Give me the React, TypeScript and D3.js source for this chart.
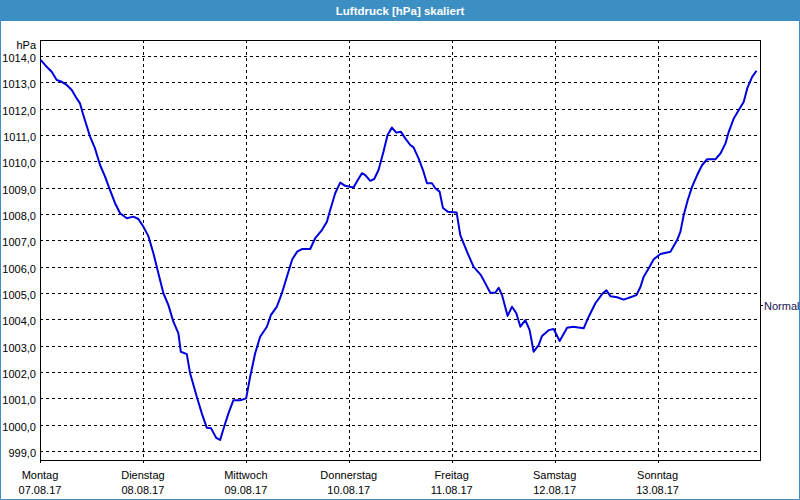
import React from "react";
import * as d3 from "d3";

const TITLE = "Luftdruck [hPa] skaliert";
const UNIT = "hPa";
const dayNames = ["Montag", "Dienstag", "Mittwoch", "Donnerstag", "Freitag", "Samstag", "Sonntag"];
const dayDates = ["07.08.17", "08.08.17", "09.08.17", "10.08.17", "11.08.17", "12.08.17", "13.08.17"];
const yTicks = [999, 1000, 1001, 1002, 1003, 1004, 1005, 1006, 1007, 1008, 1009, 1010, 1011, 1012, 1013, 1014];
const NORMAL_VALUE = 1004.54;
const NORMAL_LABEL = "Normal";

// hours since Monday 07.08.17 00:00
const hours = [
  0.16, 1.56, 2.73, 3.9, 5.06, 6.23, 7.4, 8.56, 9.33, 10.1, 11.67, 12.83, 14.0, 15.17, 16.33, 17.5, 18.67,
  20.23, 21.77, 22.94, 24.1, 25.27, 26.44, 27.6, 28.77, 29.94, 31.1, 32.27, 32.83, 34.23, 35.0, 36.56, 37.73,
  38.9, 39.9, 41.07, 42.0, 42.93, 43.94, 45.1, 46.67, 48.07, 49.0, 50.17, 51.33, 52.9, 53.83, 55.23, 56.4,
  57.57, 58.8, 59.97, 61.06, 63.0, 64.17, 65.73, 66.9, 67.67, 68.83, 70.0, 71.17, 73.1, 73.9, 75.06, 75.83,
  77.0, 77.93, 78.94, 80.1, 81.04, 82.06, 83.07, 84.16, 85.17, 86.33, 87.1, 88.27, 89.3, 90.23, 91.4, 92.17,
  93.17, 93.96, 95.08, 97.14, 98.0, 99.56, 101.1, 102.67, 103.44, 105.0, 106.17, 106.94, 107.73, 109.04,
  110.06, 111.07, 112.0, 113.17, 114.17, 115.1, 116.27, 117.06, 118.6, 119.77, 121.17, 122.9, 124.3, 126.77,
  127.94, 129.5, 131.06, 132.07, 133.0, 134.56, 136.1, 137.67, 139.07, 140.0, 140.77, 141.94, 143.1, 144.67,
  147.0, 148.56, 149.33, 150.1, 151.04, 152.06, 153.23, 154.4, 155.56, 157.5, 158.67, 159.83, 160.6, 161.77,
  162.94, 164.1, 164.9, 166.06, 167.07,
];
const pressure = [
  1013.85, 1013.59, 1013.4, 1013.09, 1013.02, 1012.9, 1012.71, 1012.39, 1012.2, 1011.76, 1010.94, 1010.49,
  1009.86, 1009.42, 1008.91, 1008.41, 1008.03, 1007.84, 1007.9, 1007.81, 1007.52, 1007.16, 1006.51, 1005.75,
  1004.99, 1004.54, 1003.91, 1003.47, 1002.77, 1002.68, 1001.95, 1001.06, 1000.43, 999.88, 999.86, 999.5,
  999.42, 999.92, 1000.43, 1000.93, 1000.93, 1001.0, 1001.82, 1002.71, 1003.34, 1003.72, 1004.16, 1004.48,
  1004.99, 1005.62, 1006.27, 1006.57, 1006.67, 1006.67, 1007.08, 1007.39, 1007.71, 1008.15, 1008.79, 1009.19,
  1009.07, 1009.01, 1009.23, 1009.55, 1009.48, 1009.26, 1009.33, 1009.67, 1010.37, 1011.0, 1011.28, 1011.09,
  1011.12, 1010.87, 1010.62, 1010.53, 1010.11, 1009.67, 1009.17, 1009.17, 1008.98, 1008.85, 1008.23, 1008.09,
  1008.06, 1007.2, 1006.57, 1005.99, 1005.71, 1005.49, 1005.01, 1005.01, 1005.2, 1004.92, 1004.13, 1004.48,
  1004.23, 1003.72, 1003.97, 1003.59, 1002.77, 1003.02, 1003.37, 1003.59, 1003.63, 1003.18, 1003.68, 1003.72,
  1003.66, 1004.1, 1004.61, 1004.96, 1005.1, 1004.88, 1004.84, 1004.75, 1004.84, 1004.92, 1005.23, 1005.62,
  1005.94, 1006.28, 1006.48, 1006.57, 1007.01, 1007.33, 1007.96, 1008.53, 1009.04, 1009.48, 1009.86, 1010.08,
  1010.08, 1010.3, 1010.68, 1011.12, 1011.63, 1011.95, 1012.26, 1012.77, 1013.21, 1013.44,
];

const W = 800;
const H = 500;
const L = 40, R = 760, T = 40, B = 460;
const FONT = "'Liberation Sans', Arial, sans-serif";

export default function App() {
  const x = d3.scaleLinear().domain([0, 7 * 24]).range([L, R + 0.5]);
  const y = d3.scaleLinear().domain([999, 1014]).range([451, 56]);
  const data = hours.map((h, i) => [h, pressure[i]] as [number, number]);
  const line = d3.line<[number, number]>().x((d) => x(d[0])).y((d) => y(d[1])).curve(d3.curveLinear);
  const dayTicks = dayNames.map((_, i) => i * 24);
  const ny = Math.round(y(NORMAL_VALUE)) + 0.5;

  return (
    <svg width={W} height={H} style={{ position: "absolute", left: 0, top: 0, display: "block" }}>
      <rect x={0} y={0} width={W} height={H} fill="#ffffff" />
      <rect x={0} y={0} width={W} height={21} fill="#3c8fc3" />
      <text x={W / 2} y={15} textAnchor="middle" fill="#ffffff" fontFamily={FONT} fontWeight="bold" fontSize={11.5}>
        {TITLE}
      </text>
      <path d={`M0.5,21 V${H - 0.5} H${W - 0.5} V21`} fill="none" stroke="#3c8fc3" strokeWidth={1} />

      <g shapeRendering="crispEdges">
        {yTicks.map((v) => (
          <line key={v} x1={L} x2={R} y1={Math.round(y(v)) + 0.5} y2={Math.round(y(v)) + 0.5} stroke="#000" strokeDasharray="3,3" />
        ))}
        {dayTicks.slice(1).map((h) => (
          <line key={h} x1={Math.round(x(h)) + 0.5} x2={Math.round(x(h)) + 0.5} y1={T} y2={B + 3} stroke="#000" strokeDasharray="3,3" />
        ))}
        <line x1={L + 0.5} x2={L + 0.5} y1={B} y2={B + 3} stroke="#000" />
        <line x1={R} x2={R + 3} y1={ny} y2={ny} stroke="#000" />
        <rect x={L + 0.5} y={T + 0.5} width={R - L} height={B - T} fill="none" stroke="#000" />
      </g>

      <g fontFamily={FONT} fontSize={11} fill="#000">
        <text x={36} y={49} textAnchor="end">{UNIT}</text>
        {yTicks.map((v) => (
          <text key={v} x={36} y={Math.round(y(v)) + 6} textAnchor="end">
            {d3.format(".1f")(v).replace(".", ",")}
          </text>
        ))}
        {dayTicks.map((h, i) => (
          <g key={h}>
            <text x={x(h)} y={479} textAnchor="middle">{dayNames[i]}</text>
            <text x={x(h)} y={493.5} textAnchor="middle">{dayDates[i]}</text>
          </g>
        ))}
        <text x={764} y={ny + 4} fill="#141450">{NORMAL_LABEL}</text>
      </g>

      <path d={line(data) || ""} fill="none" stroke="#0000dd" strokeWidth={2} strokeLinejoin="round" />
    </svg>
  );
}
